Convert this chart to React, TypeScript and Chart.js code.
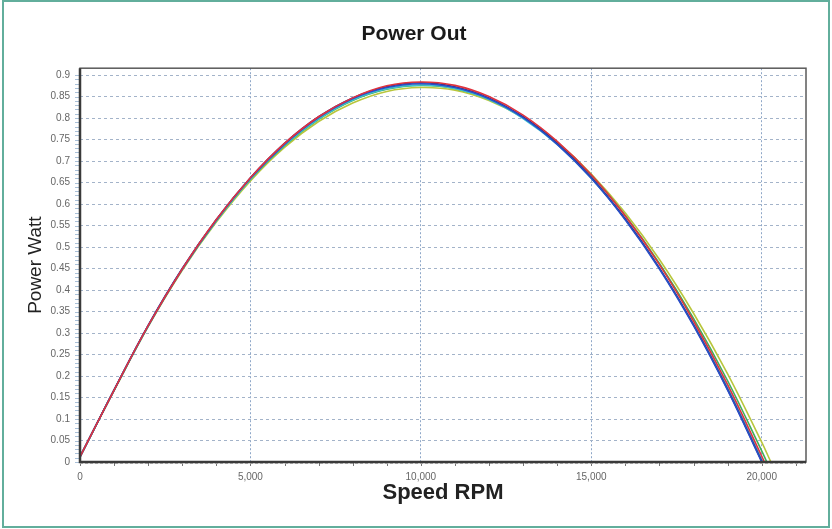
import React, { useEffect, useRef } from "react";
import { Chart, registerables } from "chart.js";

Chart.register(...registerables);

const speedRpm = [0, 1000, 2000, 3000, 4000, 5000, 6000, 7000, 8000, 9000, 10000, 11000, 12000, 13000, 14000, 15000, 16000, 17000, 18000, 19000, 20000];

const powerYellow = [0.012, 0.166, 0.315, 0.446, 0.558, 0.654, 0.732, 0.792, 0.835, 0.862, 0.871, 0.865, 0.841, 0.801, 0.744, 0.67, 0.579, 0.471, 0.346, 0.205, 0.046];
const powerGreen = [0.012, 0.167, 0.316, 0.448, 0.561, 0.658, 0.736, 0.797, 0.841, 0.867, 0.876, 0.869, 0.844, 0.802, 0.743, 0.667, 0.573, 0.462, 0.334, 0.189, 0.026];
const powerCyan = [0.012, 0.167, 0.316, 0.448, 0.561, 0.658, 0.737, 0.798, 0.842, 0.868, 0.877, 0.869, 0.843, 0.799, 0.739, 0.66, 0.565, 0.451, 0.321, 0.173, 0.007];
const powerNavy = [0.012, 0.168, 0.318, 0.45, 0.564, 0.661, 0.741, 0.803, 0.847, 0.873, 0.882, 0.873, 0.847, 0.803, 0.741, 0.662, 0.565, 0.451, 0.319, 0.169, 0.002];
const powerBlue = [0.012, 0.167, 0.317, 0.449, 0.563, 0.66, 0.739, 0.801, 0.845, 0.871, 0.88, 0.871, 0.845, 0.801, 0.739, 0.66, 0.563, 0.449, 0.317, 0.167, 0.0];
const powerRed = [0.012, 0.167, 0.317, 0.449, 0.564, 0.661, 0.741, 0.803, 0.847, 0.875, 0.884, 0.876, 0.85, 0.807, 0.746, 0.668, 0.572, 0.459, 0.328, 0.18, 0.014];

const seriesValues = [powerYellow, powerGreen, powerCyan, powerNavy, powerBlue, powerRed];
const zeroRpm = [20270, 20150, 20040, 20010, 20000, 20080];
const seriesColors = ["#b9c63c", "#3fae5a", "#3cc2d2", "#2c2f86", "#2a4fc8", "#e0323e"];

const xTicks = [0, 5000, 10000, 15000, 20000];
const yMax = 0.916;
const xMax = 21300;

const FONT = "'Liberation Sans', Arial, sans-serif";

const framePlugin = {
  id: "frame",
  afterDraw(chart: any) {
    const { ctx, chartArea: a, scales } = chart;
    const xs = scales.x;
    const ys = scales.y;
    ctx.save();
    ctx.strokeStyle = "#5a5a5a";
    ctx.lineWidth = 1.5;
    ctx.strokeRect(a.left, a.top, a.right - a.left, a.bottom - a.top);
    ctx.strokeStyle = "#a9c0d8";
    ctx.lineWidth = 1;
    for (let v = 0; v <= 0.9001; v += 0.01) {
      const y = Math.round(ys.getPixelForValue(v)) + 0.5;
      ctx.beginPath();
      ctx.moveTo(a.left - 5, y);
      ctx.lineTo(a.left, y);
      ctx.stroke();
    }
    ctx.strokeStyle = "#777";
    for (let v = 0; v <= xMax; v += 1000) {
      const x = Math.round(xs.getPixelForValue(v)) + 0.5;
      ctx.beginPath();
      ctx.moveTo(x, a.bottom);
      ctx.lineTo(x, a.bottom + 4);
      ctx.stroke();
    }
    ctx.strokeStyle = "#3a3a3a";
    ctx.lineWidth = 2.5;
    ctx.beginPath();
    ctx.moveTo(a.left, a.top);
    ctx.lineTo(a.left, a.bottom);
    ctx.lineTo(a.right, a.bottom);
    ctx.stroke();
    ctx.strokeStyle = "#9a9a9a";
    ctx.lineWidth = 1;
    ctx.setLineDash([3, 2]);
    ctx.beginPath();
    ctx.moveTo(a.left, a.bottom + 1.5);
    ctx.lineTo(a.right, a.bottom + 1.5);
    ctx.stroke();
    ctx.restore();
  },
};

export default function App() {
  const canvasRef = useRef<HTMLCanvasElement | null>(null);

  useEffect(() => {
    if (!canvasRef.current) return;
    const datasets = seriesValues.map((vals, i) => ({
      label: "Series " + (i + 1),
      data: [...speedRpm.map((s, j) => ({ x: s, y: vals[j] })), { x: zeroRpm[i], y: 0 }],
      borderColor: seriesColors[i],
      backgroundColor: seriesColors[i],
      borderWidth: 1.6,
      pointRadius: 0,
      showLine: true,
      tension: 0.4,
      fill: false,
      order: seriesValues.length - i,
    }));
    const chart = new Chart(canvasRef.current, {
      type: "scatter",
      data: { datasets },
      plugins: [framePlugin],
      options: {
        animation: false,
        responsive: false,
        maintainAspectRatio: false,
        layout: { padding: { left: 22, right: 26, top: 0, bottom: 0 } },
        plugins: {
          legend: { display: false },
          tooltip: { enabled: false },
          title: {
            display: true,
            text: "Power Out",
            color: "#1a1a1a",
            font: { family: FONT, size: 21, weight: "bold" },
            padding: { top: 22, bottom: 21 },
          },
        },
        scales: {
          x: {
            type: "linear",
            min: 0,
            max: xMax,
            afterFit: (s: any) => {
              s.height = 67;
            },
            afterBuildTicks: (s: any) => {
              s.ticks = xTicks.map((v) => ({ value: v }));
            },
            ticks: {
              padding: 9,
              color: "#666",
              font: { family: FONT, size: 10 },
              maxRotation: 0,
              autoSkip: false,
              callback: (v: any) => Number(v).toLocaleString("en-US"),
            },
            grid: {
              color: "#8ea7c8",
              lineWidth: 1,
              drawTicks: false,
            },
            border: { display: false, dash: [2, 2] },
            title: {
              display: true,
              text: "Speed RPM",
              color: "#222",
              font: { family: FONT, size: 22, weight: "bold" },
              padding: { top: 0, bottom: 23 },
            },
          },
          y: {
            type: "linear",
            min: 0,
            max: yMax,
            afterFit: (s: any) => {
              s.width = 58;
            },
            ticks: {
              stepSize: 0.05,
              includeBounds: false,
              padding: 10,
              color: "#666",
              font: { family: FONT, size: 10 },
              autoSkip: false,
              callback: (v: any) => String(Math.round(Number(v) * 100) / 100),
            },
            grid: {
              color: "#a3b3c9",
              lineWidth: 1,
              drawTicks: false,
            },
            border: { display: false, dash: [3, 3] },
            title: {
              display: true,
              text: "Power Watt",
              color: "#222",
              font: { family: FONT, size: 19 },
              padding: { top: 2, bottom: 0 },
            },
          },
        },
      },
    });
    return () => chart.destroy();
  }, []);

  return (
    <div style={{ position: "fixed", left: 0, top: 0, width: 832, height: 529, background: "#fff" }}>
      <canvas
        ref={canvasRef}
        width={832}
        height={529}
        style={{ position: "absolute", left: 0, top: 0, width: 832, height: 529 }}
      />
      <div
        style={{
          position: "absolute",
          left: 2,
          top: 0,
          width: 828,
          height: 528,
          boxSizing: "border-box",
          border: "2px solid #62ae9c",
          pointerEvents: "none",
        }}
      />
    </div>
  );
}
